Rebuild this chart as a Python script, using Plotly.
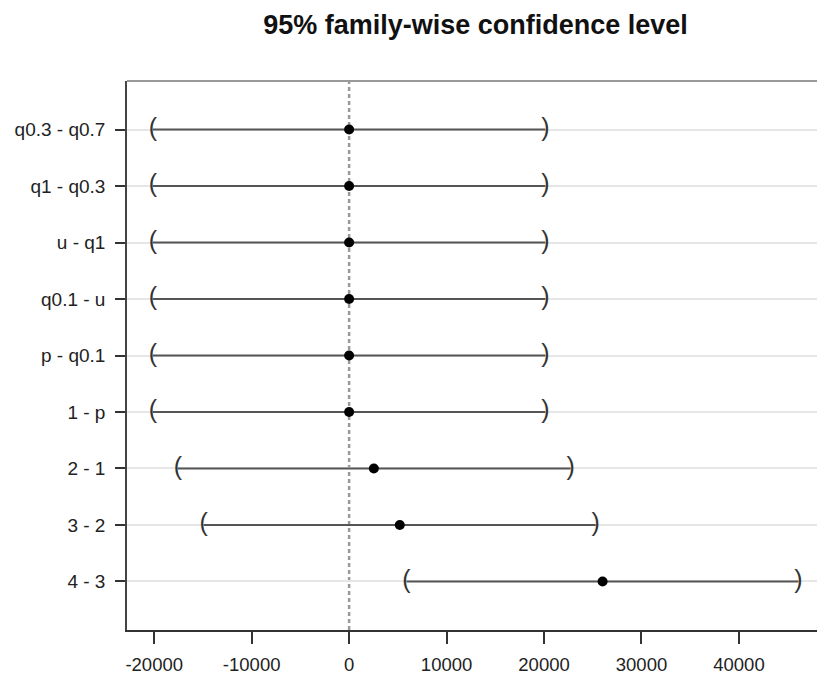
import plotly.graph_objects as go

# Simultaneous confidence intervals for pairwise contrasts
contrasts = ["q0.3 - q0.7", "q1 - q0.3", "u - q1", "q0.1 - u", "p - q0.1",
             "1 - p", "2 - 1", "3 - 2", "4 - 3"]
estimate = [0, 0, 0, 0, 0, 0, 2540, 5200, 26010]
lower = [-20130, -20130, -20130, -20130, -20130, -20130, -17560, -14920, 5890]
upper = [20130, 20130, 20130, 20130, 20130, 20130, 22730, 25300, 46100]
x_ticks = [-20000, -10000, 0, 10000, 20000, 30000, 40000]

FONT = "Liberation Sans, Arial, Helvetica, sans-serif"

seg_x, seg_y = [], []
for lab, lo, hi in zip(contrasts, lower, upper):
    seg_x += [lo, hi, None]
    seg_y += [lab, lab, None]

fig = go.Figure()

# interval segments
fig.add_trace(go.Scatter(
    x=seg_x, y=seg_y, mode="lines",
    line=dict(color="#555555", width=2),
    hoverinfo="skip", showlegend=False,
))
# lower / upper bounds as bracket glyphs
fig.add_trace(go.Scatter(
    x=lower, y=contrasts, mode="text", text=["("] * len(lower),
    textposition="middle center",
    textfont=dict(family=FONT, size=25, color="#333333"),
    showlegend=False,
))
fig.add_trace(go.Scatter(
    x=upper, y=contrasts, mode="text", text=[")"] * len(upper),
    textposition="middle center",
    textfont=dict(family=FONT, size=25, color="#333333"),
    showlegend=False,
))
# point estimates
fig.add_trace(go.Scatter(
    x=estimate, y=contrasts, mode="markers",
    marker=dict(color="black", size=10, line=dict(width=0)),
    showlegend=False,
))

# dashed reference line at zero
fig.add_shape(type="line", xref="x", yref="paper", x0=0, x1=0, y0=0, y1=1,
              line=dict(color="#9a9a9a", width=2.5, dash="4px,3px"), layer="below")
# top border of the box
fig.add_shape(type="line", xref="paper", yref="paper", x0=0, x1=1, y0=1, y1=1,
              line=dict(color="#999999", width=2))

fig.update_layout(
    width=817, height=676,
    margin=dict(l=127, r=0, t=81, b=46),
    paper_bgcolor="white", plot_bgcolor="white",
    font=dict(family=FONT, color="#222222"),
    title=dict(text="<b>95% family-wise confidence level</b>",
               xref="container", x=475.5 / 817, xanchor="center",
               y=1 - 25 / 676, yanchor="middle",
               font=dict(family=FONT, size=27, color="#111111")),
    showlegend=False,
)

fig.update_xaxes(
    range=[-22790, 48010], tickvals=x_ticks,
    ticktext=[str(v) for v in x_ticks],
    showgrid=False, zeroline=False,
    showline=True, linecolor="#333333", linewidth=1.5,
    ticks="outside", ticklen=12, tickwidth=1.5, tickcolor="#333333",
    ticklabelstandoff=5,
    tickfont=dict(family=FONT, size=18.5, color="#222222"),
)
fig.update_yaxes(
    type="category", categoryorder="array", categoryarray=contrasts[::-1],
    range=[-0.86, 8.86],
    showgrid=True, gridcolor="#e6e6e6", gridwidth=1.5,
    zeroline=False,
    showline=True, linecolor="#444444", linewidth=1.5,
    ticks="outside", ticklen=10, tickwidth=1.5, tickcolor="#333333",
    ticklabelstandoff=6,
    tickfont=dict(family=FONT, size=19, color="#222222"),
)

fig.write_html("out.html")
